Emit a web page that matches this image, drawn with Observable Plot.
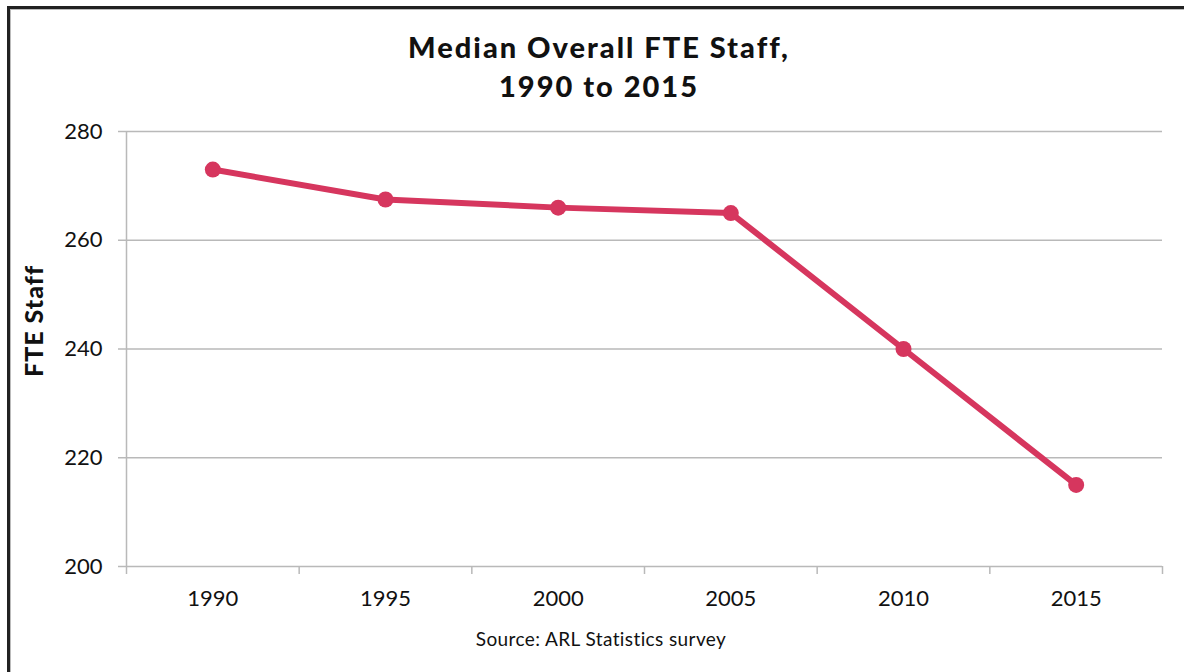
<!DOCTYPE html>
<html>
<head>
<meta charset="utf-8">
<script src="https://cdn.jsdelivr.net/npm/d3@7"></script>
<script src="https://cdn.jsdelivr.net/npm/@observablehq/plot@0.6"></script>
<style>
  html, body { margin: 0; padding: 0; background: #fff; }
  body { width: 1184px; height: 672px; overflow: hidden; position: relative; font-family: Lato, "Open Sans", sans-serif; color: #111; }
  #frame { position: absolute; left: 7px; top: 6px; width: 1300px; height: 800px; border-left: 3px solid #222; border-top: 3px solid #222; box-shadow: inset 1px 1px 0 #bbb; }
  #title { position: absolute; left: 0; top: 27px; width: 1198px; text-align: center; font-size: 29px; font-weight: 900; letter-spacing: 2px; line-height: 39px; }
  #ylabel { position: absolute; left: 33px; top: 321px; transform: translate(-50%, -50%) rotate(-90deg); font-size: 25px; font-weight: 900; letter-spacing: 1px; white-space: nowrap; }
  #chart { position: absolute; left: 0; top: 0; }
  #caption { position: absolute; left: 0; top: 627px; width: 1202px; text-align: center; font-size: 19px; letter-spacing: 0.4px; }
</style>
</head>
<body>
<div id="frame"></div>
<div id="title">Median Overall FTE Staff,<br>1990 to 2015</div>
<div id="chart"></div>
<div id="ylabel">FTE Staff</div>
<div id="caption">Source: ARL Statistics survey</div>
<script>
const years = [1990, 1995, 2000, 2005, 2010, 2015];
const staff = [273, 267.5, 266, 265, 240, 215];
const yTicks = [200, 220, 240, 260, 280];
const xTickLabels = ["1990", "1995", "2000", "2005", "2010", "2015"];

const data = years.map((y, i) => ({year: y, value: staff[i]}));
const boundaries = years.map(y => y - 2.5).concat([years[years.length - 1] + 2.5]);
const xDomain = [boundaries[0], boundaries[boundaries.length - 1]];
const lineColor = "#d6365e";
const gridColor = "#b9b9b9";

const chart = Plot.plot({
  width: 1184,
  height: 610,
  marginLeft: 126,
  marginRight: 22,
  marginTop: 131,
  marginBottom: 44,
  style: {fontFamily: "Lato, 'Open Sans', sans-serif", fontSize: "22px", color: "#111", background: "transparent", overflow: "visible"},
  x: {domain: xDomain},
  y: {domain: [200, 280]},
  marks: [
    Plot.ruleY(yTicks, {x1: xDomain[0], x2: xDomain[1], stroke: gridColor, strokeWidth: 1.5}),
    Plot.ruleX([xDomain[0]], {y1: 200, y2: 280, stroke: gridColor, strokeWidth: 1.5}),
    Plot.axisY({ticks: yTicks, tickSize: 8, tickPadding: 16, label: null, stroke: gridColor, strokeWidth: 1.5, strokeOpacity: 1, fill: "#111", fontSize: 22}),
    Plot.axisX({ticks: boundaries, tickSize: 8, tickFormat: () => "", label: null, stroke: gridColor, strokeWidth: 1.5, strokeOpacity: 1}),
    Plot.axisX({ticks: years, tickSize: 0, tickPadding: 24, tickFormat: (d) => xTickLabels[years.indexOf(d)], label: null, fill: "#111", fontSize: 22}),
    Plot.line(data, {x: "year", y: "value", stroke: lineColor, strokeWidth: 6, strokeLinejoin: "round", strokeLinecap: "round"}),
    Plot.dot(data, {x: "year", y: "value", r: 8, fill: lineColor, stroke: "none"})
  ]
});
document.getElementById("chart").appendChild(chart);
</script>
</body>
</html>
